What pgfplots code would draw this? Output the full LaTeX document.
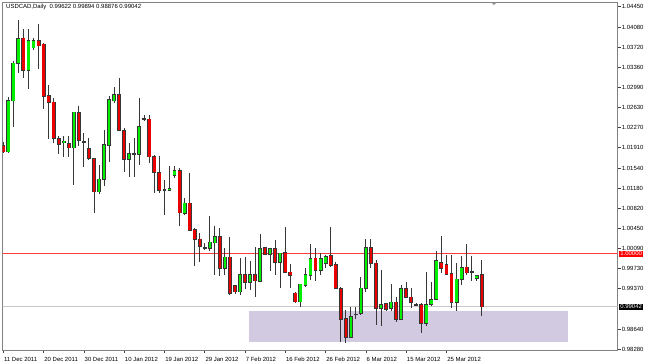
\documentclass[border=0pt]{standalone}
\usepackage{pgfplots}
\pgfplotsset{compat=1.18}
\usepackage{pgfplotstable}
\usepackage{fontspec}
\setmainfont{Liberation Sans}
\definecolor{bull}{RGB}{0,240,0}
\definecolor{bear}{RGB}{235,0,0}
\definecolor{wick}{RGB}{55,55,55}
\definecolor{zone}{RGB}{210,202,224}
\definecolor{framec}{RGB}{130,130,130}
\definecolor{levelred}{RGB}{255,60,60}
\definecolor{pline}{RGB}{200,200,200}
\pgfplotstableread{
k O H L C
0 1.01939 1.02017 1.01808 1.01837
1 1.01837 1.02817 1.01819 1.02756
2 1.02756 1.03472 1.02287 1.03430
3 1.03430 1.04211 1.03250 1.03881
4 1.03881 1.04043 1.03171 1.03309
5 1.03309 1.04043 1.02961 1.03832
6 1.03711 1.03881 1.03670 1.03832
7 1.03832 1.04133 1.03322 1.03747
8 1.03773 1.03801 1.02601 1.02841
9 1.02841 1.03039 1.02060 1.02727
10 1.02727 1.02799 1.01988 1.02078
11 1.02078 1.02120 1.01790 1.01970
12 1.02017 1.02120 1.01747 1.02024
13 1.01975 1.02125 1.01747 1.01909
14 1.01909 1.02558 1.01236 1.02547
15 1.02547 1.02660 1.01939 1.02048
16 1.02017 1.02168 1.01555 1.02017
17 1.01898 1.02089 1.01687 1.01718
18 1.01705 1.01718 1.00726 1.01116
19 1.01116 1.01597 1.01069 1.01339
20 1.01339 1.02228 1.01218 1.01957
21 1.01957 1.02841 1.01656 1.02769
22 1.02756 1.02997 1.02709 1.02871
23 1.02871 1.03171 1.02210 1.02228
24 1.02215 1.02258 1.01476 1.01705
25 1.01705 1.01988 1.01375 1.01795
26 1.01795 1.02078 1.01375 1.01795
27 1.01795 1.02810 1.01597 1.02287
28 1.02426 1.02498 1.02390 1.02426
29 1.02421 1.02498 1.01628 1.01747
30 1.01747 1.01777 1.01098 1.01465
31 1.01465 1.01759 1.01098 1.01146
32 1.01146 1.01327 1.00696 1.01146
33 1.01146 1.01584 1.01137 1.01173
34 1.01417 1.01584 1.01357 1.01489
35 1.01494 1.01537 1.00497 1.00737
36 1.00726 1.01002 1.00696 1.00907
37 1.00907 1.01447 1.00407 1.00425
38 1.00425 1.00456 0.99782 1.00258
39 1.00258 1.00377 0.99843 1.00137
40 1.00106 1.00186 1.00065 1.00106
41 1.00095 1.00678 1.00052 1.00204
42 1.00196 1.00497 0.99614 1.00299
43 1.00299 1.00456 0.99596 0.99735
44 0.99735 1.00095 0.99614 0.99933
45 0.99933 1.00305 0.99254 0.99284
46 0.99421 0.99434 0.99272 0.99313
47 0.99313 0.99915 0.99254 0.99614
48 0.99614 0.99933 0.99362 0.99483
49 0.99483 0.99872 0.99344 0.99614
50 0.99614 1.00124 0.99223 0.99511
51 0.99506 1.00353 0.99493 1.00083
52 1.00113 1.00124 0.99975 0.99993
53 0.99993 1.00095 0.99692 1.00083
54 1.00083 1.00245 0.99614 0.99843
55 0.99843 1.00016 0.99374 1.00005
56 1.00016 1.00485 0.99645 0.99663
57 0.99663 0.99812 0.99374 0.99614
58 0.99284 0.99313 0.99104 0.99133
59 0.99133 0.99452 0.99043 0.99447
60 0.99434 0.99735 0.99403 0.99614
61 0.99614 1.00168 0.99524 0.99915
62 0.99915 1.00095 0.99511 0.99704
63 0.99704 1.00005 0.99614 0.99903
64 0.99825 0.99975 0.99735 0.99944
65 0.99957 1.00485 0.99764 0.99794
66 0.99794 0.99854 0.99362 0.99374
67 0.99374 0.99403 0.98412 0.98821
68 0.98821 0.98983 0.98394 0.98491
69 0.98491 0.99043 0.98473 0.98863
70 0.98906 0.99032 0.98816 0.98906
71 0.98924 0.99584 0.98893 0.99374
72 0.99374 1.00263 0.99313 1.00113
73 1.00113 1.00258 0.99735 0.99825
74 0.99825 0.99885 0.98713 0.99014
75 0.99014 0.99704 0.98700 0.99073
76 0.99091 0.99104 0.98971 0.99001
77 0.99014 0.99452 0.98971 0.99122
78 0.99122 0.99223 0.98772 0.98816
79 0.98816 0.99434 0.98803 0.99374
80 0.99374 0.99493 0.99194 0.99212
81 0.99212 0.99374 0.99014 0.99122
82 0.99073 0.99104 0.99055 0.99073
83 0.99073 0.99104 0.98574 0.98744
84 0.98744 0.99674 0.98695 0.99086
85 0.99086 0.99493 0.99060 0.99176
86 0.99176 1.00052 0.99164 0.99867
87 0.99843 1.00317 0.99645 0.99735
88 0.99794 0.99975 0.99614 0.99632
89 0.99632 0.99975 0.99014 0.99122
90 0.99122 0.99825 0.98971 0.99537
91 0.99537 0.99957 0.99434 0.99753
92 0.99753 1.00173 0.99614 0.99656
93 0.99674 0.99957 0.99511 0.99674
94 0.99555 0.99614 0.99511 0.99596
95 0.99622 0.99894 0.98876 0.99042
}\candles
\pgfplotsset{
  nomark/.style={only marks, mark=none, mark size=0pt, mark options={draw=none, fill=none}},
}
\begin{document}
\begin{tikzpicture}
\path[use as bounding box] (-2.7bp,-14bp) rectangle (642.3bp,350bp);
\begin{axis}[
  at={(0,0)}, anchor=south west,
  scale only axis, width=615bp, height=347.5bp,
  xmin=-0.12, xmax=122, ymin=0.98262, ymax=1.04526,
  clip mode=individual,
  axis line style={draw=framec, line width=0.9bp},
  tick align=outside, major tick length=3bp,
  tick style={draw=black!75, line width=0.6bp},
  xtick pos=bottom, ytick pos=right, yticklabel pos=right,
  xtick={0,8,...,88},
  xticklabels={11 Dec 2011,20 Dec 2011,30 Dec 2011,10 Jan 2012,19 Jan 2012,29 Jan 2012,7 Feb 2012,16 Feb 2012,26 Feb 2012,6 Mar 2012,15 Mar 2012,25 Mar 2012},
  ytick={0.98280,0.98640,0.99370,0.99730,1.00090,1.00450,1.00820,1.01180,1.01540,1.01910,1.02270,1.02630,1.02990,1.03360,1.03720,1.04080,1.04450},
  scaled y ticks=false,
  /pgf/number format/assume math mode=true,
  yticklabel style={/pgf/number format/fixed, /pgf/number format/fixed zerofill, /pgf/number format/precision=5},
  tick label style={font=\fontsize{6}{7}\selectfont, text=black},
  x tick label style={anchor=west, inner sep=0pt, xshift=0.6bp, yshift=-6.5bp},
  y tick label style={anchor=west, inner sep=0pt, xshift=1bp},
]
% support zone
\addplot[fill=zone, draw=none] coordinates {(48.8,0.98971) (112.1,0.98971) (112.1,0.98412) (48.8,0.98412)} -- cycle;
% current price line
\addplot[draw=pline, line width=0.9bp, mark=none] coordinates {(-1,0.99042) (130,0.99042)};
% resistance level at 1.00000, drawn as a thin filled band (behind the candles)
\addplot[fill=levelred, draw=none, mark=none] coordinates {(-1,0.99989) (130,0.99989) (130,1.00011) (-1,1.00011)} -- cycle;
% wicks
\addplot[nomark, error bars/.cd, y dir=both, y explicit, error mark=none,
  error bar style={draw=wick, line width=0.9bp}]
  table[x=k, y expr={(\thisrow{H}+\thisrow{L})/2}, y error expr={(\thisrow{H}-\thisrow{L})/2}] {\candles};
% body outlines
\addplot[nomark, error bars/.cd, y dir=both, y explicit, error mark=none,
  error bar style={draw=wick, line width=3.9bp}]
  table[x=k, y expr={(\thisrow{O}+\thisrow{C})/2}, y error expr={abs(\thisrow{O}-\thisrow{C})/2+0.00011}] {\candles};
% bull bodies
\addplot[nomark, restrict expr to domain={\thisrow{C}-\thisrow{O}}{0.00001:1},
  error bars/.cd, y dir=both, y explicit, error mark=none,
  error bar style={draw=bull, line width=2.4bp}]
  table[x=k, y expr={(\thisrow{O}+\thisrow{C})/2}, y error expr={max(abs(\thisrow{O}-\thisrow{C})/2-0.00003,0)}] {\candles};
% bear bodies
\addplot[nomark, restrict expr to domain={\thisrow{O}-\thisrow{C}}{0.00001:1},
  error bars/.cd, y dir=both, y explicit, error mark=none,
  error bar style={draw=bear, line width=2.4bp}]
  table[x=k, y expr={(\thisrow{O}+\thisrow{C})/2}, y error expr={max(abs(\thisrow{O}-\thisrow{C})/2-0.00003,0)}] {\candles};
% price labels on the right
\node[fill=red, text=white, anchor=west, inner xsep=1.2bp, inner ysep=0.9bp, font=\fontsize{6}{7}\selectfont, xshift=1.2bp]
  at ({rel axis cs:1,0} |- {axis cs:0,1.00000}) {1.00000};
\node[fill=black, text=white, anchor=west, inner xsep=1.2bp, inner ysep=0.9bp, font=\fontsize{6}{7}\selectfont, xshift=1.2bp]
  at ({rel axis cs:1,0} |- {axis cs:0,0.99042}) {0.99042};
% title
\node[anchor=west, inner sep=0pt, font=\fontsize{6}{7}\selectfont, xshift=3.3bp, yshift=-4.5bp]
  at (rel axis cs:0,1) {USDCAD,Daily\ \ 0.99622 0.99894 0.98876 0.99042};
\end{axis}
\fill[black!40] (488.8bp,347.3bp) -- (493.8bp,347.3bp) -- (491.3bp,344.8bp) -- cycle;
\end{tikzpicture}
\end{document}
